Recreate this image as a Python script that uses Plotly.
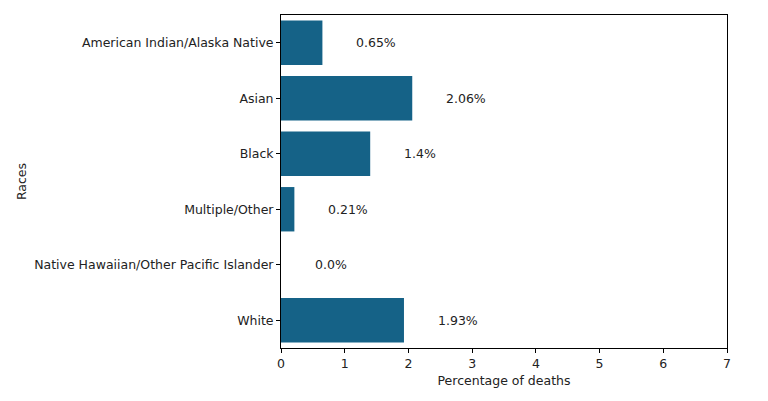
import plotly.graph_objects as go

# data
races = [
    "American Indian/Alaska Native",
    "Asian",
    "Black",
    "Multiple/Other",
    "Native Hawaiian/Other Pacific Islander",
    "White",
]
death_pct = [0.65, 2.06, 1.4, 0.21, 0.0, 1.93]
labels = ["0.65%", "2.06%", "1.4%", "0.21%", "0.0%", "1.93%"]
x_ticks = [0, 1, 2, 3, 4, 5, 6, 7]

BAR_COLOR = "#156287"
FONT = "DejaVu Sans"

fig = go.Figure()
fig.add_trace(go.Bar(
    x=death_pct, y=races, orientation="h",
    marker=dict(color=BAR_COLOR, line=dict(width=0)),
    width=0.8, showlegend=False, hoverinfo="skip",
))

# value labels sit 0.5 units to the right of each bar end
for race, val, lab in zip(races, death_pct, labels):
    fig.add_annotation(
        x=val + 0.5, y=race, text=lab, showarrow=False,
        xanchor="left", yanchor="middle",
        font=dict(family=FONT, size=12.5, color="#222222"),
    )

axis_common = dict(
    showline=True, linecolor="black", linewidth=1, mirror=True,
    ticks="outside", ticklen=4, tickcolor="black", showgrid=False,
    zeroline=False, tickfont=dict(family=FONT, size=12.5, color="#222222"),
)

# page body has an 8px margin, so margins are offset to compensate
fig.update_layout(
    width=768, height=401,
    margin=dict(l=273, r=49, t=7, b=61),
    paper_bgcolor="white", plot_bgcolor="white",
    font=dict(family=FONT, size=12.5, color="#222222"),
    xaxis=dict(
        range=[0, 7], tickvals=x_ticks,
        title=dict(text="Percentage of deaths", standoff=6,
                   font=dict(family=FONT, size=12.5)),
        **axis_common,
    ),
    yaxis=dict(
        categoryorder="array", categoryarray=races, autorange="reversed",
        title=dict(text="Races", standoff=4,
                   font=dict(family=FONT, size=12.5)),
        **axis_common,
    ),
)

fig.write_html("out.html")
